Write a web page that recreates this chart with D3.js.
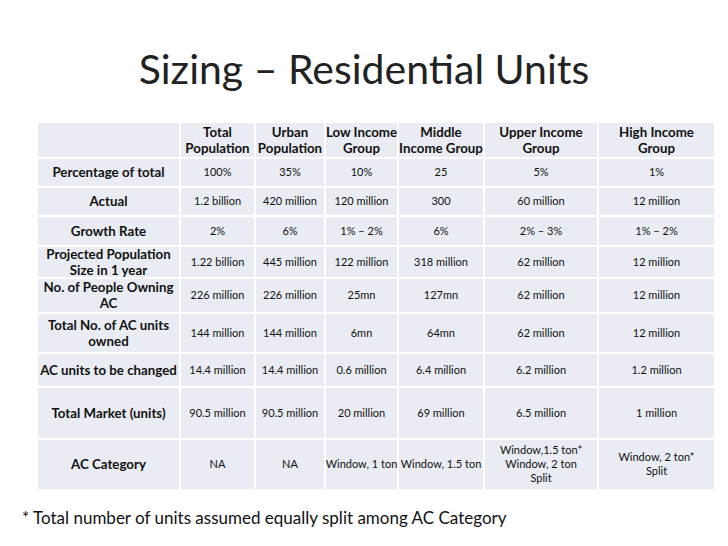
<!DOCTYPE html>
<html><head><meta charset="utf-8">
<script src="https://cdn.jsdelivr.net/npm/d3@7"></script>
<style>body{margin:0;background:#fff}text{font-family:Lato,"Open Sans",sans-serif}</style>
</head><body><svg id="c" width="728" height="546"></svg>
<script>
const title = "Sizing – Residential Units";
const columns = ["Total\nPopulation","Urban\nPopulation","Low Income\nGroup","Middle\nIncome Group","Upper Income\nGroup","High Income\nGroup"];
const rowLabels = ["Percentage of total","Actual","Growth Rate","Projected Population\nSize in 1 year","No. of People Owning\nAC","Total No. of AC units\nowned","AC units to be changed","Total Market (units)","AC Category"];
const values = [
 ["100%","35%","10%","25","5%","1%"],
 ["1.2 billion","420 million","120 million","300","60 million","12 million"],
 ["2%","6%","1% – 2%","6%","2% – 3%","1% – 2%"],
 ["1.22 billion","445 million","122 million","318 million","62 million","12 million"],
 ["226 million","226 million","25mn","127mn","62 million","12 million"],
 ["144 million","144 million","6mn","64mn","62 million","12 million"],
 ["14.4 million","14.4 million","0.6 million","6.4 million","6.2 million","1.2 million"],
 ["90.5 million","90.5 million","20 million","69 million","6.5  million","1 million"],
 ["NA","NA","Window, 1 ton","Window, 1.5 ton","Window,1.5 ton*\nWindow, 2 ton\nSplit","Window, 2 ton*\nSplit"]
];
const footnote = "* Total number of units assumed equally split among AC Category";

const svg = d3.select("#c");
const colEdges = [37,180,255,325,398,484,598,715];
const rowEdges = [122,158,187,216,246,278,313,353,387,439,490];
svg.append("text").attr("x",364).attr("y",84).attr("text-anchor","middle")
  .attr("font-size",41).attr("fill","#222").text(title);

const rows = [["", ...columns], ...rowLabels.map((l,i)=>[l,...values[i]])];
rows.forEach((r,ri)=>{
  r.forEach((cell,ci)=>{
    const x0=colEdges[ci],x1=colEdges[ci+1],y0=rowEdges[ri],y1=rowEdges[ri+1];
    svg.append("rect").attr("x",x0).attr("y",y0).attr("width",x1-x0).attr("height",y1-y0)
      .attr("fill","#e9ecf2").attr("stroke","#fff").attr("stroke-width",2);
    const bold = ri===0||ci===0;
    const fs = bold?13.3:11;
    const lines = cell.split("\n");
    const lh = bold?16:14;
    const cy=(y0+y1)/2 - (lines.length-1)*lh/2;
    lines.forEach((ln,k)=>{
      svg.append("text").attr("x",(x0+x1)/2).attr("y",cy+k*lh).attr("dy","0.35em")
        .attr("text-anchor","middle").attr("font-size",fs).attr("font-weight",bold?"bold":"normal")
        .attr("fill","#111").text(ln);
    });
  });
});
svg.append("text").attr("x",22).attr("y",524).attr("font-size",17).attr("fill","#111").text(footnote);
</script></body></html>
